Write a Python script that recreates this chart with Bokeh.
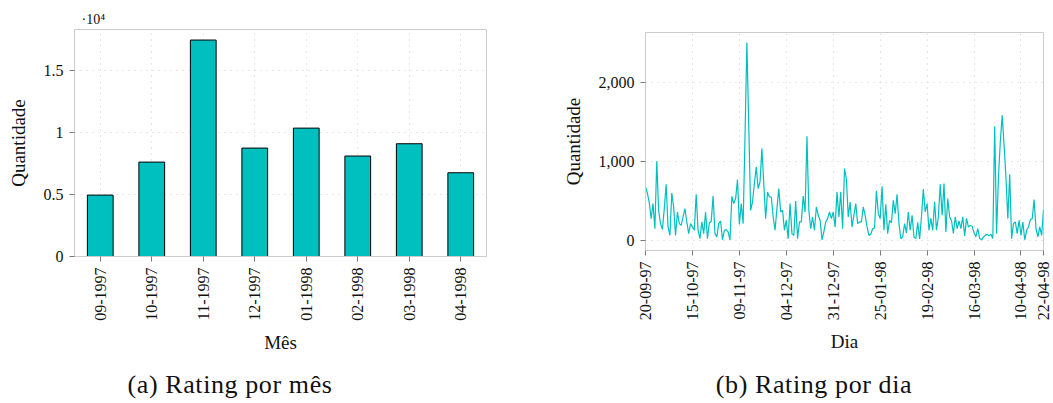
import math
from bokeh.plotting import figure
from bokeh.models import FactorRange, Range1d, FixedTicker, NumeralTickFormatter, Div
from bokeh.layouts import row, column
from bokeh.embed import file_html
from bokeh.resources import INLINE

# ---------------- data ----------------
months = ["09-1997", "10-1997", "11-1997", "12-1997",
          "01-1998", "02-1998", "03-1998", "04-1998"]
monthly_counts = [4950, 7610, 17450, 8740, 10350, 8100, 9090, 6750]
month_ytick_values = [0, 5000, 10000, 15000]
month_ytick_labels = ["0", "0.5", "1", "1.5"]

daily_counts = [
    677, 600, 480, 277, 466, 150, 1000, 382, 214, 142,
    400, 710, 172, 66, 600, 424, 66, 361, 214, 193,
    298, 404, 235, 88, 214, 172, 130, 584, 130, 25,
    235, 88, 361, 25, 222, 240, 563, 88, 46, 214,
    247, 10, 130, 138, 109, 8, 559, 466, 530, 769,
    205, 466, 214, 1300, 2500, 1450, 382, 487, 719, 929,
    656, 740, 1160, 719, 277, 614, 550, 550, 298, 130,
    400, 656, 361, 382, 130, 256, 25, 466, 88, 66,
    500, 25, 235, 235, 563, 361, 1317, 382, 150, 298,
    130, 424, 319, 256, 10, 109, 235, 277, 361, 277,
    361, 172, 614, 298, 614, 150, 908, 780, 298, 487,
    172, 319, 466, 214, 235, 235, 424, 319, 172, 66,
    80, 150, 160, 627, 340, 277, 686, 130, 458, 88,
    256, 222, 508, 340, 584, 214, 25, 46, 214, 96,
    361, 130, 319, 46, 25, 230, 20, 300, 650, 361,
    466, 130, 280, 130, 490, 130, 300, 710, 320, 720,
    110, 530, 300, 250, 90, 300, 150, 250, 150, 300,
    60, 280, 170, 190, 180, 100, 50, 150, 25, 10,
    46, 66, 80, 60, 80, 25, 1443, 88, 800, 1250,
    1582, 1200, 800, 277, 837, 25, 214, 235, 88, 256,
    66, 235, 10, 130, 172, 265, 277, 517, 150, 46,
    172, 66, 390,
]
day_tick_index = [0, 25, 50, 75, 100, 125, 150, 175, 200, 212]
day_tick_labels = ["20-09-97", "15-10-97", "09-11-97", "04-12-97", "31-12-97",
                   "25-01-98", "19-02-98", "16-03-98", "10-04-98", "22-04-98"]
day_ytick_values = [0, 1000, 2000]

# ---------------- style ----------------
FONT = "Liberation Serif"
TEAL = "#00bfbf"
GRID = "#d0d0d0"
FRAME = "#cccccc"


def style(p, xlabel, ylabel):
    p.outline_line_color = FRAME
    p.outline_line_width = 1
    p.background_fill_color = "white"
    p.border_fill_color = "white"
    for ax in (p.xaxis[0], p.yaxis[0]):
        ax.axis_line_color = FRAME
        ax.major_tick_line_color = "#7a7a7a"
        ax.major_tick_in = 0
        ax.major_tick_out = 5
        ax.minor_tick_line_color = None
        ax.major_label_text_font = FONT
        ax.major_label_text_font_size = "16px"
        ax.major_label_text_color = "#111111"
        ax.axis_label_text_font = FONT
        ax.axis_label_text_font_size = "19px"
        ax.axis_label_text_font_style = "normal"
        ax.axis_label_text_color = "#111111"
        ax.major_label_standoff = 6
    p.xaxis.axis_label = xlabel
    p.yaxis.axis_label = ylabel
    p.xaxis.major_label_orientation = math.pi / 2
    p.xaxis.axis_label_standoff = 8
    p.yaxis.axis_label_standoff = 12
    p.xgrid.grid_line_color = GRID
    p.ygrid.grid_line_color = GRID
    p.xgrid.grid_line_dash = "1 5"
    p.ygrid.grid_line_dash = "1 5"


# ---------------- left: per month ----------------
p1 = figure(width=538, height=375, x_range=FactorRange(factors=months),
            y_range=Range1d(0, 18300), output_backend="svg",
            toolbar_location=None, title="·10⁴",
            min_border_left=74, min_border_right=52,
            min_border_top=29, min_border_bottom=119)
p1.vbar(x=months, top=monthly_counts, width=0.5, fill_color=TEAL,
        line_color="black", line_width=1)
style(p1, "Mês", "Quantidade")
p1.yaxis.ticker = FixedTicker(ticks=month_ytick_values)
p1.yaxis.major_label_overrides = dict(zip(month_ytick_values, month_ytick_labels))
p1.title.text_font = FONT
p1.title.text_font_size = "14px"
p1.title.text_font_style = "normal"
p1.title.text_color = "#111111"
p1.title.align = "left"
p1.title.offset = 7
p1.title.standoff = 6

# ---------------- right: per day ----------------
day_index = list(range(len(daily_counts)))
p2 = figure(width=515, height=375, x_range=Range1d(0, len(daily_counts) - 1),
            y_range=Range1d(-125, 2625), output_backend="svg",
            toolbar_location=None,
            min_border_left=107, min_border_right=10,
            min_border_top=32, min_border_bottom=125)
p2.line(day_index, daily_counts, line_color=TEAL, line_width=1.2)
style(p2, "Dia", "Quantidade")
p2.xaxis.ticker = FixedTicker(ticks=day_tick_index)
p2.xaxis.major_label_overrides = dict(zip(day_tick_index, day_tick_labels))
p2.yaxis.ticker = FixedTicker(ticks=day_ytick_values)
p2.yaxis.formatter = NumeralTickFormatter(format="0,0")

# ---------------- captions ----------------
cap_style = ("font-family:'Liberation Serif';font-size:26px;line-height:20px;"
             "letter-spacing:0.6px;color:#111;white-space:nowrap;")
cap1 = Div(text=f'<div style="{cap_style}width:460px;text-align:center;">(a) Rating por mês</div>',
           width=538, height=20, margin=0)
cap2 = Div(text=f'<div style="{cap_style}margin-left:46px;width:460px;text-align:center;">(b) Rating por dia</div>',
           width=515, height=20, margin=0)

layout = row(column(p1, cap1), column(p2, cap2))
open("out.html", "w").write(file_html(layout, INLINE))
